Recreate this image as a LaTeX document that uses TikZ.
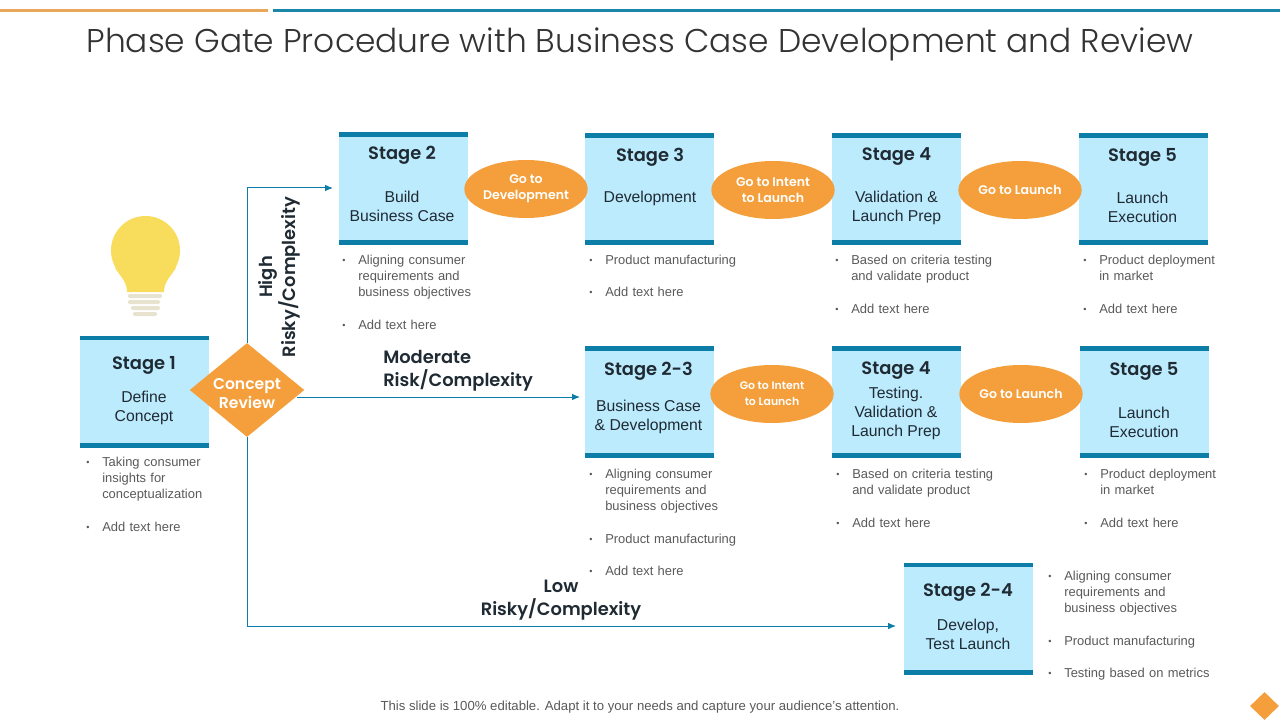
\documentclass[tikz,border=0pt]{standalone}
\usepackage{fontspec}
\setmainfont{Liberation Sans}
\newfontfamily\headfont{Poppins SemiBold}
\newfontfamily\titlefont{Poppins Light}
\usetikzlibrary{shapes,arrows.meta,positioning}

\definecolor{barblue}{HTML}{0B7DA6}
\definecolor{boxblue}{HTML}{BCEBFD}
\definecolor{gateorange}{HTML}{F49F3C}
\definecolor{topteal}{HTML}{1B86A8}
\definecolor{toporange}{HTML}{E9A75C}
\definecolor{listgray}{HTML}{595959}
\definecolor{headdark}{HTML}{1F2A33}
\definecolor{bulbyellow}{HTML}{F8DC5C}
\definecolor{bulbbase}{HTML}{E8E3CF}

\newcommand{\bitem}[1]{\par\noindent\makebox[12pt][l]{\raisebox{.5pt}{\scalebox{.7}{\textbullet}}}\begin{tabular}[t]{@{}l@{}}#1\end{tabular}\par}
\newcommand{\bgap}{\vskip12pt}

\tikzset{
  stagebox/.style={rectangle, fill=boxblue, minimum width=96.75pt, minimum height=84pt,
    inner sep=0pt,
    path picture={
      \fill[barblue] (path picture bounding box.north west) rectangle
        ([yshift=-3.6pt]path picture bounding box.north east);
      \fill[barblue] (path picture bounding box.south west) rectangle
        ([yshift=3.6pt]path picture bounding box.south east);
    }},
  stagehead/.style={font=\headfont\fontsize{13.4}{17}\selectfont, text=headdark, inner sep=0pt},
  stagebody/.style={font=\fontsize{11.8}{14.25}\selectfont, text=headdark, align=center, inner sep=0pt},
  gateoval/.style={ellipse, fill=gateorange, minimum width=92.5pt, minimum height=43.5pt,
    inner sep=0pt, text=white, align=center},
  gatediamond/.style={diamond, fill=gateorange, minimum width=86pt, minimum height=70.5pt, inner sep=0pt},
  gatelabel/.style={font=\headfont\fontsize{11.7}{14.25}\selectfont, text=white, align=center, inner sep=0pt},
  risklabel/.style={font=\headfont\fontsize{13.4}{17.25}\selectfont, text=headdark, inner sep=0pt},
  listbox/.style={anchor=north west, inner sep=0pt, text width=135pt, align=left, text=listgray,
    font=\fontsize{9.7}{12}\selectfont},
  flow/.style={draw=barblue, line width=.75pt, -{Latex[length=6pt,width=5pt]}},
}

\begin{document}
\begin{tikzpicture}[x=.75pt, y=-.75pt]
  \useasboundingbox (0,0) rectangle (1280,720);

  \fill[toporange] (0,9) rectangle (268,12);
  \fill[topteal] (273,9) rectangle (1280,12);
  \node[font=\titlefont\fontsize{24.66}{30}\selectfont, text=black!80, inner sep=0pt] (title) at (640,44.5)
    {Phase Gate Procedure with Business Case Development and Review};

  % bulb
  \fill[bulbyellow] (145.5,250.5) circle (34.5);
  \fill[bulbyellow] (115,268) .. controls (121,277) and (127,282) .. (127,292)
    -- (164,292) .. controls (164,282) and (170,277) .. (176,268) -- cycle;
  \foreach \bary/\barl/\barr in {296/128/162, 302/128/160, 308/131/160, 314/133/157}
    \fill[bulbbase, rounded corners=1pt] (\barl,\bary-2) rectangle (\barr,\bary+2);

  \foreach \nm/\cy/\cx/\tx/\hy/\by/\hd/\bd in {
    stageone/391.5/144.5/144/365/407.5/Stage 1/{Define\\Concept},
    stagetwo/188.5/403.5/402/155/206.5/Stage 2/{Build\\Business Case},
    stagethree/189/649.5/650/157/198/Stage 3/{Development},
    stagefour/189/896.5/896.5/157/207.5/Stage 4/{Validation \&\\Launch Prep},
    stagefive/189/1143.5/1142.5/157/207.5/Stage 5/{Launch\\Execution},
    stagetwothree/402/649.5/648.5/371/416.5/Stage 2-3/{Business Case\\\& Development},
    stagefourb/402/896.5/896/371/413/Stage 4/{Testing.\\Validation \&\\Launch Prep},
    stagefiveb/402/1144.5/1144/371/422.5/Stage 5/{Launch\\Execution},
    stagetwofour/618.5/968.5/968/592/634.5/Stage 2-4/{Develop,\\Test Launch}}
  {
    \node[stagebox] (\nm) at (\cx,\cy) {};
    \node[stagehead] (\nm head) at (\tx,\hy) {\hd};
    \node[stagebody] (\nm body) at (\tx,\by) {\bd};
  }

  \node[gatediamond] (concept) at (247,390) {};
  \node[gatelabel] (conceptlabel) at (247,394) {Concept\\Review};

  \node[gateoval, font=\headfont\fontsize{9.4}{12}\selectfont] (gotodev) at (526,189) {Go to\\Development};
  \node[gateoval, font=\headfont\fontsize{9.4}{12}\selectfont] (gotointent) at (773,190) {Go to Intent\\to Launch};
  \node[gateoval, font=\headfont\fontsize{9.4}{12}\selectfont] (gotolaunch) at (1020,190) {Go to Launch};
  \node[gateoval, font=\headfont\fontsize{8.2}{12}\selectfont] (gotointentb) at (772,394) {Go to Intent\\to Launch};
  \node[gateoval, font=\headfont\fontsize{9.4}{12}\selectfont] (gotolaunchb) at (1021,394) {Go to Launch};

  \coordinate (highend) at (333,188);
  \coordinate (midend) at (580,397);
  \coordinate (lowend) at (896,626);
  \draw[flow] (concept.north) |- (highend);
  \draw[flow] ([xshift=-6pt]concept.east |- midend) -- (midend);
  \draw[flow] (concept.south) |- (lowend);

  \node[risklabel, rotate=90, align=center] (highrisk) at (279.5,277) {High\\Risky/Complexity};
  \node[risklabel, anchor=west, align=left] (midrisk) at (383,371) {Moderate\\Risk/Complexity};
  \node[risklabel, align=center] (lowrisk) at (561,600) {Low\\Risky/Complexity};

  \node[listbox] (listone) at (86,450) {%
    \bitem{Taking consumer\\insights for\\conceptualization}\bgap\bitem{Add text here}};
  \node[listbox] (listtwo) at (342,248) {%
    \bitem{Aligning consumer\\requirements and\\business objectives}\bgap\bitem{Add text here}};
  \node[listbox] (listthree) at (589,248) {%
    \bitem{Product manufacturing}\bgap\bitem{Add text here}};
  \node[listbox] (listfour) at (835,248) {%
    \bitem{Based on criteria testing\\and validate product}\bgap\bitem{Add text here}};
  \node[listbox] (listfive) at (1083,248) {%
    \bitem{Product deployment\\in market}\bgap\bitem{Add text here}};
  \node[listbox] (listtwothree) at (589,462) {%
    \bitem{Aligning consumer\\requirements and\\business objectives}\bgap\bitem{Product manufacturing}\bgap\bitem{Add text here}};
  \node[listbox] (listfourb) at (836,462) {%
    \bitem{Based on criteria testing\\and validate product}\bgap\bitem{Add text here}};
  \node[listbox] (listfiveb) at (1084,462) {%
    \bitem{Product deployment\\in market}\bgap\bitem{Add text here}};
  \node[listbox] (listtwofour) at (1048,564) {%
    \bitem{Aligning consumer\\requirements and\\business objectives}\bgap\bitem{Product manufacturing}\bgap\bitem{Testing based on metrics}};

  \node[font=\fontsize{9.87}{12}\selectfont, text=listgray, inner sep=0pt] (footer) at (640,707)
    {This slide is 100\% editable. Adapt it to your needs and capture your audience's attention.};
  \node[diamond, fill=gateorange, minimum width=21.75pt, minimum height=21pt, inner sep=0pt] (cornermark) at (1264.5,706) {};
\end{tikzpicture}
\end{document}
